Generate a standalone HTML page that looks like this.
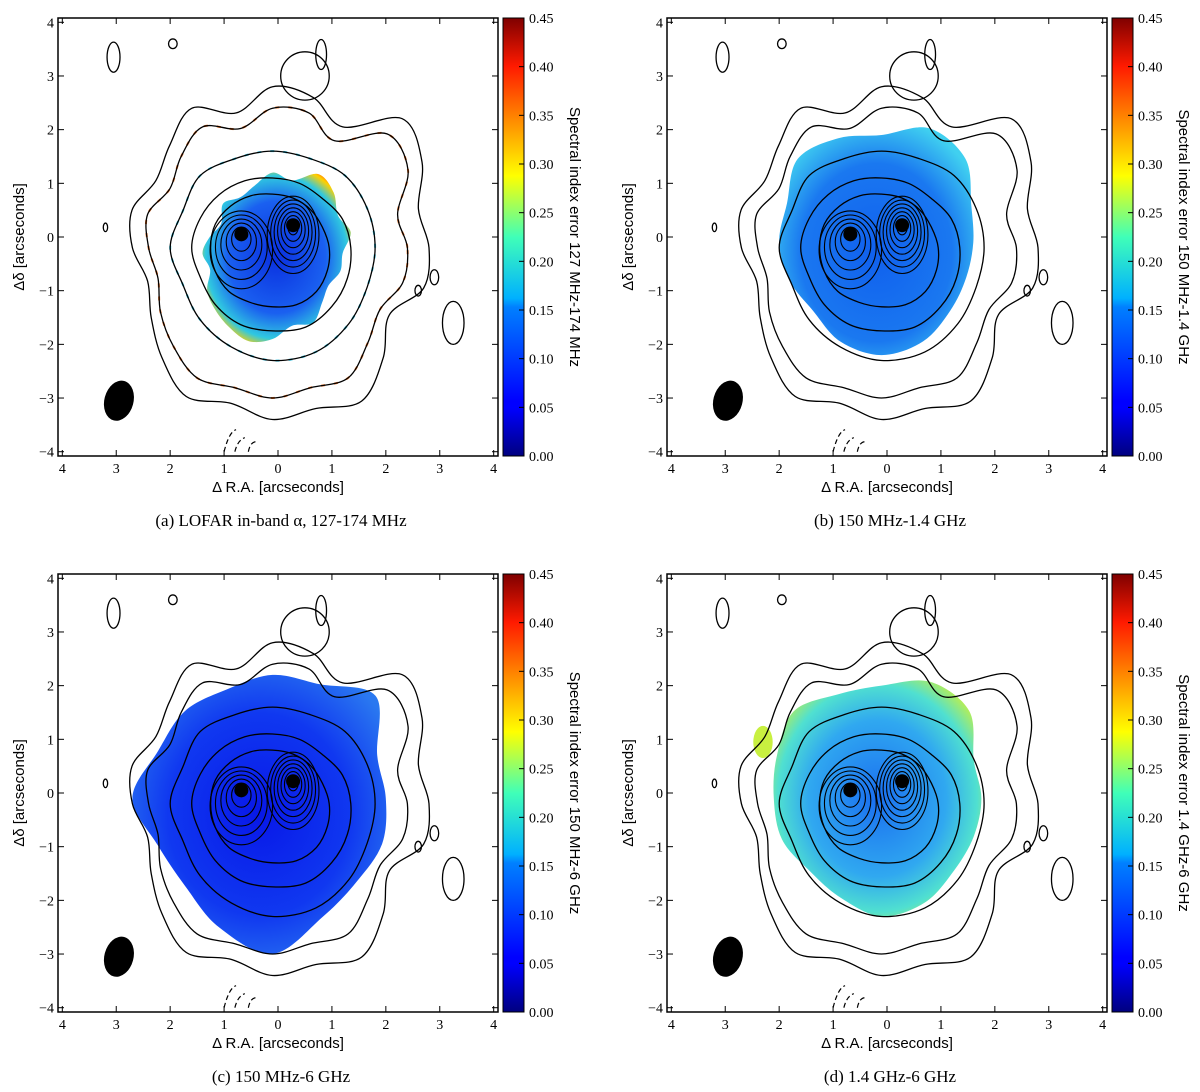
<!DOCTYPE html>
<html><head><meta charset="utf-8"><style>
html,body{margin:0;padding:0;background:#fff;width:1200px;height:1092px;overflow:hidden}
svg text{font-family:"Liberation Serif",serif}
.sans{font-family:"Liberation Sans",sans-serif}
</style></head><body>
<svg id="fig" width="1200" height="1092" viewBox="0 0 1200 1092" xmlns="http://www.w3.org/2000/svg">
<defs>
<linearGradient id="jet" x1="0" y1="1" x2="0" y2="0">
<stop offset="0" stop-color="#00007f"/><stop offset="0.11" stop-color="#0000ff"/><stop offset="0.125" stop-color="#0000ff"/>
<stop offset="0.34" stop-color="#0080ff"/><stop offset="0.36" stop-color="#00b0ff"/><stop offset="0.5" stop-color="#40ffb8"/>
<stop offset="0.64" stop-color="#ffff00"/><stop offset="0.89" stop-color="#ff1a00"/><stop offset="1" stop-color="#7f0000"/>
</linearGradient>
<radialGradient id="gB" cx="0.5" cy="0.55" r="0.6"><stop offset="0" stop-color="#1060ee"/><stop offset="0.65" stop-color="#1a78f0"/><stop offset="1" stop-color="#40d0f0"/></radialGradient>
<radialGradient id="gC" cx="0.5" cy="0.5" r="0.6"><stop offset="0" stop-color="#0818e8"/><stop offset="0.6" stop-color="#1038f0"/><stop offset="1" stop-color="#2a78f0"/></radialGradient>
<radialGradient id="gD" cx="0.5" cy="0.5" r="0.6"><stop offset="0" stop-color="#1a6ff0"/><stop offset="0.55" stop-color="#30a8f0"/><stop offset="0.8" stop-color="#50e0d0"/><stop offset="1" stop-color="#c8f040"/></radialGradient>
<radialGradient id="gA" cx="0.5" cy="0.5" r="0.6"><stop offset="0" stop-color="#0a30e0"/><stop offset="0.55" stop-color="#1a60f0"/><stop offset="0.8" stop-color="#30c8e0"/><stop offset="0.92" stop-color="#ffd000"/><stop offset="1" stop-color="#ff4000"/></radialGradient>
</defs>
<g id="root"></g>
</svg>
<script>
// ---- data ----
const xTicks = [4,3,2,1,0,-1,-2,-3,-4];
const yTicks = [4,3,2,1,0,-1,-2,-3,-4];
const xTickLabels = ["4","3","2","1","0","1","2","3","4"];
const yTickLabels = ["4","3","2","1","0","\u22121","\u22122","\u22123","\u22124"];
const cbarTicks = [0.00,0.05,0.10,0.15,0.20,0.25,0.30,0.35,0.40,0.45];
const cbarLabels = ["0.00","0.05","0.10","0.15","0.20","0.25","0.30","0.35","0.40","0.45"];
// contour radii (arcsec) at equally spaced angles around centre (RA 0.1, Dec -0.2)
const contour1 = [2.9,2.8,3.2,3.4,2.6,2.9,3.0,2.6,3.0,2.7,2.5,2.7,2.6,2.4,2.6,2.9,3.2,3.0,3.2,3.1,3.3,2.9,2.5,2.9];
const contour2 = [2.5,2.4,2.9,3.0,2.3,2.6,2.6,2.3,2.6,2.4,2.2,2.4,2.3,2.2,2.4,2.6,2.8,2.7,2.8,2.7,2.8,2.5,2.3,2.5];
const contour3 = [1.9,1.9,1.9,1.8,1.8,1.8,1.9,1.8,1.9,1.8,1.9,2.0,2.1,2.1,2.0,1.9];
const contour4 = [1.45,1.4,1.3,1.3,1.3,1.35,1.4,1.45,1.5,1.45,1.5,1.55,1.55,1.6,1.55,1.5];
const contour5 = [1.05,1.0,1.0,1.0,1.0,1.05,1.1,1.15,1.15,1.15,1.15,1.1,1.1,1.15,1.15,1.1];
const peakA = [0.68,0.05]; const peakB = [-0.28,0.22];
const peakRingsA = [0.18,0.28,0.38,0.48,0.58];
const peakRingsB = [0.12,0.2,0.28,0.36,0.44,0.52,0.6];
const islands = [[3.05,3.35,0.12,0.28],[1.95,3.6,0.08,0.09],[-0.8,3.4,0.1,0.28],[3.2,0.18,0.04,0.08],[-2.9,-0.75,0.08,0.14],[-2.6,-1.0,0.06,0.1],[-3.25,-1.6,0.2,0.4],[-0.5,3.0,0.45,0.45]];
// fill shape radii per panel
const fillA = [1.3,1.5,1.4,1.6,1.7,1.4,1.5,1.3,1.2,1.3,1.1,1.2,1.3,1.2,1.4,1.5,1.6,1.7,1.6,1.4,1.5,1.3,1.2,1.3];
const fillB = [1.7,1.8,2.2,2.3,2.0,2.1,2.2,1.9,1.9,1.85,1.8,2.0,2.1,2.0,1.8,1.7];
const fillC = [2.1,2.1,2.7,2.3,2.3,2.2,2.3,2.3,2.6,2.3,2.3,2.6,2.9,2.4,2.2,2.2];
const fillD = [1.85,1.85,2.3,2.35,2.1,2.1,2.3,2.1,2.0,2.0,1.9,2.0,2.2,2.1,1.9,1.85];
const panels = [
 {id:"a",x0:58,y0:18,fill:fillA,grad:"url(#gA)",cb:"Spectral index error 127 MHz-174 MHz",cap:"(a) LOFAR in-band \u03b1, 127-174 MHz"},
 {id:"b",x0:667,y0:18,fill:fillB,grad:"url(#gB)",cb:"Spectral index error 150 MHz-1.4 GHz",cap:"(b) 150 MHz-1.4 GHz"},
 {id:"c",x0:58,y0:574,fill:fillC,grad:"url(#gC)",cb:"Spectral index error 150 MHz-6 GHz",cap:"(c) 150 MHz-6 GHz"},
 {id:"d",x0:667,y0:574,fill:fillD,grad:"url(#gD)",cb:"Spectral index error 1.4 GHz-6 GHz",cap:"(d) 1.4 GHz-6 GHz"}
];
const W=440,H=438,R=4.08,CB=[0,0.45];
const NS="http://www.w3.org/2000/svg";
const root=document.getElementById('root');
function el(tag,attrs,parent){const e=document.createElementNS(NS,tag);for(const k in attrs)e.setAttribute(k,attrs[k]);(parent||root).appendChild(e);return e;}
function smooth(pts){let d="";const n=pts.length;for(let i=0;i<n;i++){const p0=pts[(i-1+n)%n],p1=pts[i],p2=pts[(i+1)%n],p3=pts[(i+2)%n];
 if(i===0)d+="M"+p1[0].toFixed(1)+","+p1[1].toFixed(1);
 const c1=[p1[0]+(p2[0]-p0[0])/6,p1[1]+(p2[1]-p0[1])/6],c2=[p2[0]-(p3[0]-p1[0])/6,p2[1]-(p3[1]-p1[1])/6];
 d+="C"+c1[0].toFixed(1)+","+c1[1].toFixed(1)+" "+c2[0].toFixed(1)+","+c2[1].toFixed(1)+" "+p2[0].toFixed(1)+","+p2[1].toFixed(1);}return d+"Z";}
panels.forEach(p=>{
 const X=v=>p.x0+(R-v)/(2*R)*W, Y=v=>p.y0+(R-v)/(2*R)*H;
 const ux=W/(2*R), uy=H/(2*R);
 const g=el('g',{});
 
 
 const poly=(radii,cra,cdec)=>radii.map((r,i)=>{const t=i/radii.length*2*Math.PI;return [X(cra)+r*Math.cos(t)*ux, Y(cdec)-r*Math.sin(t)*uy];});
 const f=el('path',{d:smooth(poly(p.fill,0.1,p.id==="a"?-0.3:-0.1)),fill:p.grad},g);
 
 
 if(p.id==="a"){[contour2,contour3].forEach((c,k)=>{const s=el('path',{d:smooth(poly(c,0.1,-0.2)),fill:"none",stroke:k?"#30c0e0":"#f07020","stroke-width":2,"stroke-dasharray":"4 9"},g);
  
  });}
 if(p.id==="d"){const isl=el('ellipse',{cx:X(2.3),cy:Y(0.95),rx:0.18*ux,ry:0.3*uy,fill:"#c8f040"},g);
  
  }
 [contour1,contour2,contour3,contour4,contour5].forEach((c,k)=>{const s=el('path',{d:smooth(poly(c,0.1,-0.2)),fill:"none",stroke:"#000","stroke-width":1.3},g);
  
  });
 peakRingsA.forEach(r=>{const e=el('ellipse',{cx:X(peakA[0]),cy:Y(peakA[1]-r*0.5),rx:r*ux,ry:r*1.25*uy,fill:"none",stroke:"#000","stroke-width":1.1},g);
  
  });
 peakRingsB.forEach(r=>{const e=el('ellipse',{cx:X(peakB[0]),cy:Y(peakB[1]-r*0.3),rx:r*0.8*ux,ry:r*1.2*uy,fill:"none",stroke:"#000","stroke-width":1.1},g);
  
  });
 islands.forEach(i=>{const e=el('ellipse',{cx:X(i[0]),cy:Y(i[1]),rx:i[2]*ux,ry:i[3]*uy,fill:"none",stroke:"#000","stroke-width":1.3},g);
  
  });
 [peakA,peakB].forEach(pk=>{const e=el('circle',{cx:X(pk[0]),cy:Y(pk[1]),r:7,fill:"#000"},g);
  
  });
 const beam=el('ellipse',{cx:X(2.95),cy:Y(-3.05),rx:0.27*ux,ry:0.38*uy,fill:"#000",transform:`rotate(15 ${X(2.95)} ${Y(-3.05)})`},g);
 
 
 const neg=el('path',{d:`M${X(1.0)},${Y(-4.0)} q5,-20 12,-22 M${X(0.8)},${Y(-4.0)} q3,-12 10,-14 M${X(0.55)},${Y(-4.0)} q2,-10 8,-10`,fill:"none",stroke:"#000","stroke-width":1.2,"stroke-dasharray":"5 3"},g);
 
 
 const fr=el('rect',{x:p.x0,y:p.y0,width:W,height:H,fill:"none",stroke:"#000","stroke-width":1.5},g);
 
 
 xTicks.forEach((t,i)=>{const x=X(t);
  el('line',{x1:x,x2:x,y1:p.y0+H,y2:p.y0+H-6,stroke:"#000"},g);el('line',{x1:x,x2:x,y1:p.y0,y2:p.y0+6,stroke:"#000"},g);
  const tx=el('text',{x:x,y:p.y0+H+17,"font-size":14,"text-anchor":"middle"},g);tx.textContent=xTickLabels[i];
  
  });
 yTicks.forEach((t,i)=>{const y=Y(t);
  el('line',{x1:p.x0,x2:p.x0+6,y1:y,y2:y,stroke:"#000"},g);el('line',{x1:p.x0+W,x2:p.x0+W-6,y1:y,y2:y,stroke:"#000"},g);
  const tx=el('text',{x:p.x0-4,y:y+5,"font-size":14,"text-anchor":"end"},g);tx.textContent=yTickLabels[i];
  
  });
 const xl=el('text',{x:p.x0+W/2,y:p.y0+H+36,"font-size":15,"text-anchor":"middle",class:"sans"},g);xl.textContent="\u0394 R.A. [arcseconds]";
 
 
 const yl=el('text',{x:0,y:0,"font-size":15,"text-anchor":"middle",class:"sans",transform:`translate(${p.x0-34},${p.y0+H/2}) rotate(-90)`},g);yl.textContent="\u0394\u03b4 [arcseconds]";
 
 
 const cx0=p.x0+W+5,cw=21;
 const cb=el('rect',{x:cx0,y:p.y0,width:cw,height:H,fill:"url(#jet)",stroke:"#000","stroke-width":1},g);
 
 
 cbarTicks.forEach((t,i)=>{const y=p.y0+H-(t-CB[0])/(CB[1]-CB[0])*H;
  el('line',{x1:cx0+cw-5,x2:cx0+cw,y1:y,y2:y,stroke:"#000"},g);
  const tx=el('text',{x:cx0+cw+5,y:y+5,"font-size":14},g);tx.textContent=cbarLabels[i];
  
  });
 const cl=el('text',{x:0,y:0,"font-size":15,"text-anchor":"middle",class:"sans",transform:`translate(${cx0+cw+46},${p.y0+H/2}) rotate(90)`},g);cl.textContent=p.cb;
 
 
 const cap=el('text',{x:p.x0+W/2+3,y:p.y0+H+70,"font-size":17,"text-anchor":"middle"},g);cap.textContent=p.cap;
 
 
});
</script>
</body></html>
